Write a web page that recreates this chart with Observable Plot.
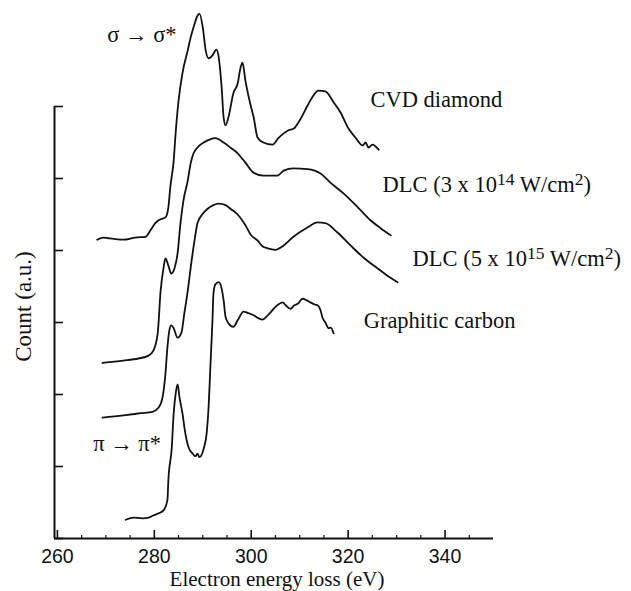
<!DOCTYPE html>
<html>
<head>
<meta charset="utf-8">
<script src="https://cdn.jsdelivr.net/npm/d3@7"></script>
<script src="https://cdn.jsdelivr.net/npm/@observablehq/plot@0.6"></script>
<style>
  html, body { margin: 0; padding: 0; background: #fff; }
</style>
</head>
<body>
<div id="chart"></div>
<script>
// Carbon K-edge EELS spectra, stacked with vertical offsets (arbitrary count units)

// CVD diamond
const cvdEnergy = [268.2,269.5,270.5,273.6,276.1,278.2,279.2,280.2,280.9,282.3,282.9,283.3,284.0,284.4,285.0,285.8,286.9,287.5,288.1,288.9,289.3,290.0,290.6,291.2,292.0,292.8,293.3,293.9,294.3,294.7,295.3,296.3,297.2,297.8,298.2,298.8,299.9,300.5,301.3,302.5,304.4,305.6,307.7,308.7,310.2,311.6,312.6,313.9,315.3,317.0,318.4,320.1,321.5,323.0,323.6,324.2,325.0,326.3];
const cvdCount = [4.15,4.18,4.17,4.15,4.18,4.19,4.28,4.38,4.42,4.46,4.60,4.88,5.25,5.63,6.08,6.46,6.78,6.96,7.10,7.26,7.29,7.10,6.78,6.67,6.71,6.79,6.68,6.26,5.85,5.74,5.85,6.18,6.32,6.54,6.61,6.36,6.01,5.85,5.57,5.50,5.47,5.56,5.67,5.69,5.83,6.01,6.13,6.22,6.21,6.06,5.92,5.69,5.57,5.46,5.50,5.43,5.47,5.40];

// DLC, 3 x 10^14 W/cm^2
const dlcLowEnergy = [269.3,273.6,276.7,278.8,279.8,280.7,281.3,281.9,282.3,282.9,283.5,284.2,284.8,285.4,286.0,286.9,287.5,288.1,288.9,290.2,291.4,292.6,294.3,295.7,297.2,298.8,300.5,302.5,305.4,306.7,308.7,311.6,314.3,316.4,319.1,322.0,324.6,326.7,328.8];
const dlcLowCount = [2.44,2.47,2.50,2.54,2.61,2.85,3.44,3.76,3.89,3.79,3.68,3.76,3.96,4.38,4.69,4.97,5.21,5.35,5.43,5.50,5.54,5.56,5.50,5.43,5.35,5.22,5.08,5.04,5.04,5.11,5.14,5.13,5.07,4.94,4.79,4.60,4.42,4.31,4.21];

// DLC, 5 x 10^15 W/cm^2
const dlcHighEnergy = [269.3,273.6,277.2,279.6,280.9,281.7,282.3,282.7,283.1,283.5,284.0,284.8,285.6,286.2,286.9,287.5,288.3,288.9,290.0,291.0,292.2,293.3,294.7,295.7,297.2,298.8,299.9,301.3,302.3,303.4,305.0,306.7,308.7,311.6,313.7,315.3,317.8,320.5,323.2,326.1,328.1,330.2];
const dlcHighCount = [1.68,1.71,1.74,1.76,1.82,1.96,2.29,2.65,2.89,2.96,2.92,2.79,2.86,3.13,3.44,3.76,4.14,4.38,4.51,4.58,4.63,4.65,4.63,4.58,4.50,4.35,4.22,4.14,4.06,4.03,4.01,4.07,4.19,4.32,4.39,4.38,4.25,4.07,3.90,3.75,3.65,3.56];

// Graphitic carbon
const graphiteEnergy = [274.1,275.7,277.6,278.8,279.8,280.9,281.9,282.7,282.9,283.6,284.0,284.4,284.8,285.2,285.8,286.4,287.1,287.9,288.5,288.9,289.3,290.2,290.8,291.2,291.6,292.0,292.2,292.6,293.3,293.9,294.3,294.7,295.3,296.3,297.2,298.4,299.4,300.5,301.5,302.3,303.4,304.0,304.6,305.4,306.5,307.1,308.1,308.9,309.6,310.6,311.4,312.2,313.1,313.7,314.3,314.7,315.3,316.0,316.4,317.0];
const graphiteCount = [0.26,0.29,0.28,0.29,0.32,0.35,0.39,0.53,0.81,1.26,1.74,2.01,2.14,1.96,1.74,1.46,1.26,1.18,1.14,1.18,1.13,1.25,1.46,1.82,2.43,3.03,3.40,3.53,3.56,3.47,3.31,3.08,2.99,2.94,3.03,3.15,3.13,3.10,3.06,3.04,3.10,3.14,3.19,3.24,3.28,3.24,3.19,3.24,3.26,3.33,3.31,3.28,3.25,3.24,3.17,3.07,3.00,2.92,2.93,2.85];

// Annotations: text and the (energy, count) point their baseline starts at
const labelText = ["CVD diamond", "DLC (3 x 10^14 W/cm^2)", "DLC (5 x 10^15 W/cm^2)", "Graphitic carbon", "σ → σ*", "π → π*"];
const labelEnergy = [324.6, 327.1, 333.3, 323.2, 270.3, 267.4];
const labelCount = [5.99, 4.81, 3.78, 2.93, 6.90, 1.21];

// Axes
const xMajorTicks = [260, 280, 300, 320, 340];
const xMinorTicks = [265, 270, 275, 285, 290, 295, 305, 310, 315, 325, 330, 335, 345];
const yTicks = [0, 1, 2, 3, 4, 5, 6];
const xDomain = [259.4, 350];
const yDomain = [0, 6];
const xTitle = "Electron energy loss (eV)";
const yTitle = "Count (a.u.)";

const series = [
  {name: "CVD diamond", energy: cvdEnergy, count: cvdCount},
  {name: "DLC low", energy: dlcLowEnergy, count: dlcLowCount},
  {name: "DLC high", energy: dlcHighEnergy, count: dlcHighCount},
  {name: "Graphitic carbon", energy: graphiteEnergy, count: graphiteCount}
];
const rows = series.flatMap(s => s.energy.map((e, i) => ({series: s.name, energy: e, count: s.count[i]})));
const labels = labelText.map((t, i) => ({text: t, energy: labelEnergy[i], count: labelCount[i]}));

const width = 631, height = 591;
const margin = {top: 106, right: 138, bottom: 53, left: 54};
const frameW = width - margin.left - margin.right;
const frameH = height - margin.top - margin.bottom;
const serif = "'Liberation Serif', 'Times New Roman', Times, serif";
const sans = "'Liberation Sans', Arial, Helvetica, sans-serif";
const ink = "#111";

const chart = Plot.plot({
  width, height,
  marginTop: margin.top, marginRight: margin.right,
  marginBottom: margin.bottom, marginLeft: margin.left,
  style: {background: "#fff", color: ink},
  x: {domain: xDomain, axis: null},
  y: {domain: yDomain, axis: null},
  marks: [
    // axis lines
    Plot.ruleX([xDomain[0]], {stroke: ink, strokeWidth: 2}),
    Plot.ruleY([yDomain[0]], {stroke: ink, strokeWidth: 2}),
    // inward ticks
    Plot.tickY(yTicks, {y: d => d, stroke: ink, strokeWidth: 1.6, insetRight: frameW - 9}),
    Plot.tickX(xMajorTicks, {x: d => d, stroke: ink, strokeWidth: 1.6, insetTop: frameH - 8}),
    Plot.tickX(xMinorTicks, {x: d => d, stroke: ink, strokeWidth: 1.2, insetTop: frameH - 3}),
    // tick labels
    Plot.text(xMajorTicks, {x: d => d, y: yDomain[0], text: d => String(d), dy: 11, lineAnchor: "top",
      fontSize: 19.5, fontFamily: sans, fill: ink}),
    // axis titles
    Plot.text([xTitle], {frameAnchor: "bottom", textAnchor: "middle", dx: 3, dy: 47.5, lineAnchor: "bottom",
      fontSize: 21, fontFamily: serif, fill: ink}),
    Plot.text([yTitle], {frameAnchor: "left", textAnchor: "middle", rotate: -90, dx: -31, dy: -16,
      lineAnchor: "middle", fontSize: 23, fontFamily: serif, fill: ink}),
    // spectra
    Plot.line(rows, {x: "energy", y: "count", z: "series", curve: "monotone-x", stroke: ink,
      strokeWidth: 1.8, strokeLinejoin: "round", strokeLinecap: "round"}),
    // curve and transition labels
    Plot.text(labels, {x: "energy", y: "count", text: "text", textAnchor: "start", lineAnchor: "bottom",
      fontSize: 22.5, fontFamily: serif, fill: ink})
  ]
});

// render "^n" as raised, smaller digits
d3.select(chart).selectAll("text").each(function () {
  const s = this.textContent;
  if (!s.includes("^")) return;
  const parts = s.split(/\^(\d+)/);
  this.textContent = "";
  let raised = false;
  parts.forEach((p, i) => {
    if (!p) return;
    const ts = d3.select(this).append("tspan").text(p);
    if (i % 2) {
      ts.attr("font-size", "0.78em").attr("dy", raised ? null : -7);
      raised = true;
    } else if (raised) {
      ts.attr("dy", 7);
      raised = false;
    }
  });
});

document.getElementById("chart").appendChild(chart);
</script>
</body>
</html>
